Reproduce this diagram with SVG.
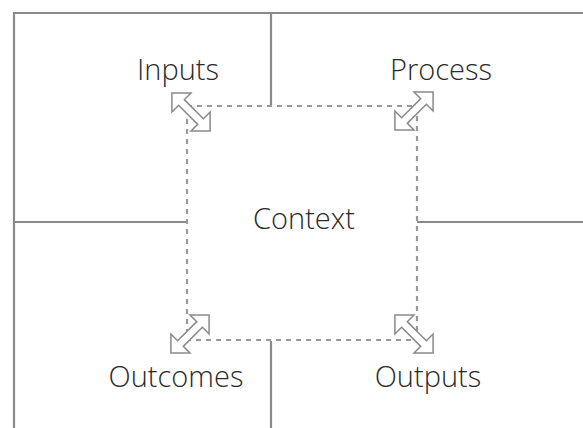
<svg xmlns="http://www.w3.org/2000/svg" width="583" height="428" viewBox="0 0 583 428">
  <defs>
    <style>
      .frame { stroke: #8a8a8a; stroke-width: 2.2; fill: none; }
      .ctx { stroke: #999999; stroke-width: 2.2; fill: none; stroke-dasharray: 5 5; }
      .arrow { stroke: #8a8a8a; stroke-width: 1.5; fill: #ffffff; stroke-linejoin: miter; }
      .label { font-family: "Open Sans", "Liberation Sans", sans-serif; font-weight: 300; font-size: 29px; fill: #2a2a2a; text-anchor: middle; }
    </style>
    <!-- double-headed block arrow, laid out along the x axis -->
    <polygon id="dbl" class="arrow" points="-27,0 -13.5,-13.5 -13.5,-4 13.5,-4 13.5,-13.5 27,0 13.5,13.5 13.5,4 -13.5,4 -13.5,13.5"/>
  </defs>
  <rect width="583" height="428" fill="#ffffff"/>

  <g id="connectors">
    <!-- outer frame and quadrant dividers -->
    <path class="frame" d="M14,428 V13 H583"/>
    <path class="frame" d="M271,13 V105"/>
    <path class="frame" d="M271,341 V428"/>
    <path class="frame" d="M14,222 H187"/>
    <path class="frame" d="M417,222 H583"/>
  </g>

  <g id="context">
    <rect class="ctx" x="187" y="106" width="230" height="234"/>
    <text class="label" x="304" y="229">Context</text>
  </g>

  <g id="inputs">
    <text class="label" x="178" y="80">Inputs</text>
    <use href="#dbl" transform="translate(191,112) rotate(45)"/>
  </g>

  <g id="process">
    <text class="label" x="441" y="80">Process</text>
    <use href="#dbl" transform="translate(414,111) rotate(-45)"/>
  </g>

  <g id="outcomes">
    <text class="label" x="176" y="387">Outcomes</text>
    <use href="#dbl" transform="translate(190,334) rotate(-45)"/>
  </g>

  <g id="outputs">
    <text class="label" x="428" y="387">Outputs</text>
    <use href="#dbl" transform="translate(414,334) rotate(45)"/>
  </g>
</svg>
